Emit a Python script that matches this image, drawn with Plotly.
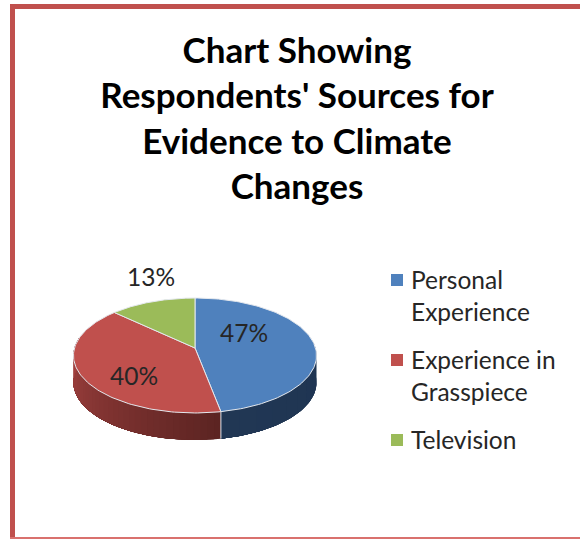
import numpy as np
import plotly.graph_objects as go

# --- data ---
categories = ["Personal<br>Experience", "Experience in<br>Grasspiece", "Television"]
values = [47, 40, 13]
title_lines = ["Chart Showing", "Respondents' Sources for", "Evidence to Climate", "Changes"]
top_colors = ["#4F81BD", "#C0504D", "#9BBB59"]

# --- projection of the tilted pie (pixels of the 580x539 page) ---
W, H = 580, 539
CX, CY = 195, 348
RX, RY = 120.5, 56.5
PERSP = 0.1304
DEPTH = 27
FONT = "Lato, Carlito, Calibri, sans-serif"


def project(theta_deg):
    t = np.radians(np.asarray(theta_deg, dtype=float))
    X, Y = np.sin(t), np.cos(t)
    s = 1 + PERSP * Y
    return CX + RX * X / s, CY - RY * Y / s


def lerp(c1, c2, f):
    return "rgb({},{},{})".format(*[int(round(a + (b - a) * f)) for a, b in zip(c1, c2)])


def wall(fig, a0, a1, color):
    th = np.linspace(a0, a1, 60)
    x, y = project(th)
    fig.add_trace(go.Scatter(
        x=np.r_[x, x[::-1], x[0]], y=np.r_[y, y[::-1] + DEPTH, y[0]],
        mode="lines", fill="toself", fillcolor=color, line=dict(width=0),
        hoverinfo="skip", showlegend=False))


fig = go.Figure()

total = sum(values)
edges = np.cumsum([0] + values) / total * 360

# side walls: each strip runs to the end of its arc and the next one paints over it, so no seams
blue_strips = np.linspace(80, edges[1], 12)
for i in range(len(blue_strips) - 1):
    f = i / (len(blue_strips) - 2)
    wall(fig, blue_strips[i], blue_strips[-1], lerp((30, 52, 82), (33, 55, 84), f))
red_strips = np.linspace(edges[1], 280, 40)
for i in range(len(red_strips) - 1):
    f = i / (len(red_strips) - 2)
    wall(fig, red_strips[i], red_strips[-1], lerp((92, 36, 34), (168, 68, 66), f))

# seam between the two walls
sx, sy = project([edges[1]])
fig.add_trace(go.Scatter(x=[sx[0], sx[0]], y=[sy[0], sy[0] + DEPTH], mode="lines",
                         line=dict(color="#DDE3EA", width=1), hoverinfo="skip", showlegend=False))

# top faces
for i, (name, color) in enumerate(zip(categories, top_colors)):
    th = np.linspace(edges[i], edges[i + 1], 120)
    x, y = project(th)
    fig.add_trace(go.Scatter(
        x=np.r_[CX, x, CX], y=np.r_[CY, y, CY], mode="lines", fill="toself", fillcolor=color,
        line=dict(color="#E4E8EE", width=1), hoverinfo="skip", showlegend=False))

# legend: squares on the first line of each label, as in the reference
legend_y = [280, 360, 440]
fig.add_trace(go.Scatter(
    x=[397] * len(categories), y=legend_y, mode="markers",
    marker=dict(symbol="square", size=12, color=top_colors), hoverinfo="skip", showlegend=False))
annotations = [
    dict(x=409.5, y=ly - 16, xref="x", yref="y", text=name, showarrow=False, xanchor="left", yanchor="top",
         align="left", borderpad=0, font=dict(family=FONT, size=24.5, color="#262626"))
    for name, ly in zip(categories, legend_y)
]

# data labels
label_x = [244, 134, 151]
label_y = [336, 379, 280]
fig.add_trace(go.Scatter(
    x=label_x, y=label_y, mode="text", text=[f"{v}%" for v in values],
    textfont=dict(family=FONT, size=24.5, color="#262626"), textposition="middle center",
    hoverinfo="skip", showlegend=False))

# chart frame
frame = "#C0504D"
shapes = [
    dict(type="rect", x0=10, x1=15, y0=4, y1=H, fillcolor=frame, line_width=0, layer="above"),
    dict(type="rect", x0=10, x1=W, y0=4, y1=9, fillcolor=frame, line_width=0, layer="above"),
    dict(type="rect", x0=10, x1=W, y0=H - 2, y1=H, fillcolor="#D9716E", line_width=0, layer="above"),
]

fig.update_layout(
    width=W, height=H, autosize=False,
    margin=dict(l=0, r=0, t=0, b=0, pad=0),
    paper_bgcolor="white", plot_bgcolor="white",
    xaxis=dict(range=[0, W], visible=False, fixedrange=True),
    yaxis=dict(range=[H, 0], visible=False, fixedrange=True),
    shapes=shapes,
    annotations=annotations,
    title=dict(text="<br>".join(title_lines), x=297 / W, xanchor="center", y=1 - 62.5 / H, yanchor="top",
               font=dict(family=FONT, size=35, color="black", weight="bold")),
    showlegend=False,
)

fig.write_html("out.html", config={"displayModeBar": False},
               post_script="document.body.style.margin='0';document.body.style.overflow='hidden';")
